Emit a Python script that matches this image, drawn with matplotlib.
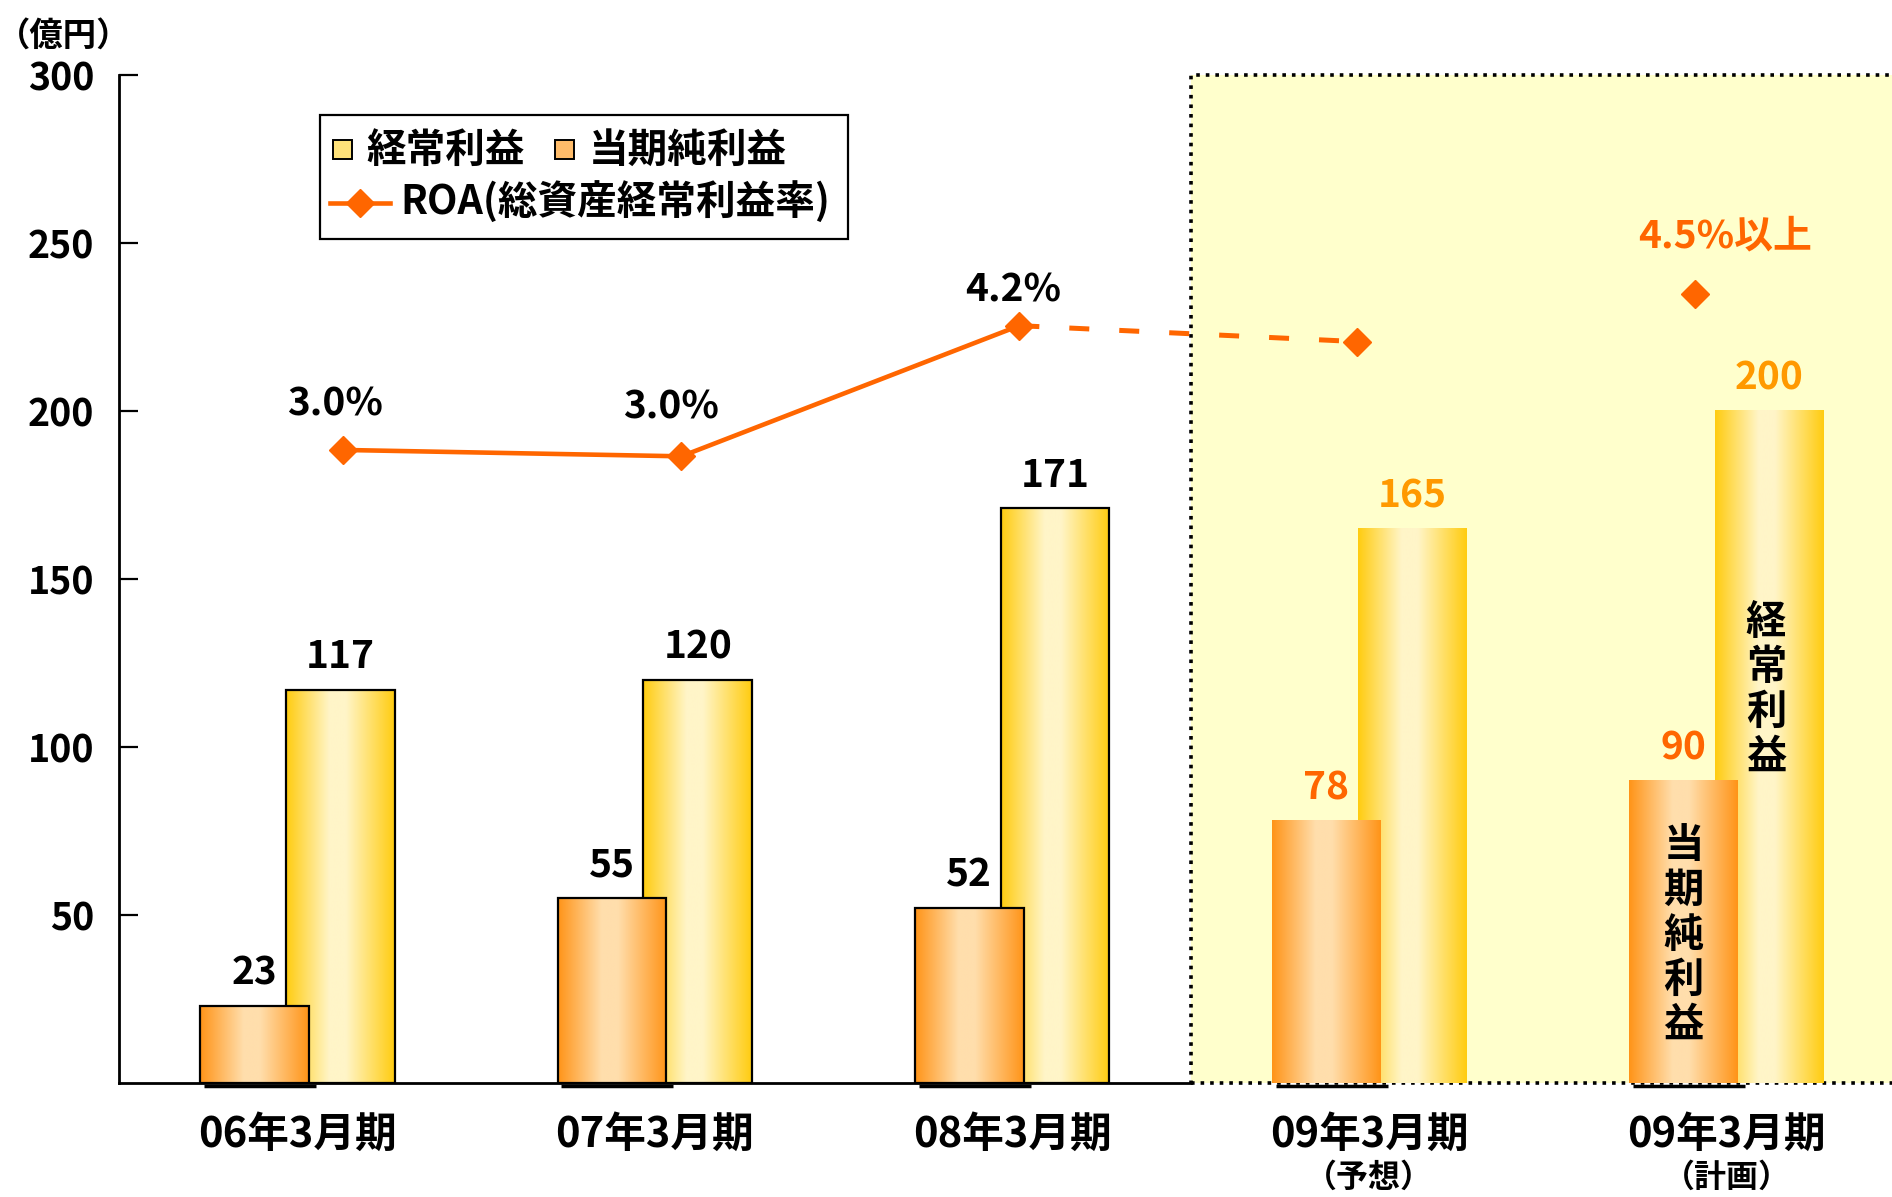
import numpy as np
import matplotlib
matplotlib.use("Agg")
import matplotlib.pyplot as plt
from matplotlib.patches import Rectangle
from matplotlib.lines import Line2D
from matplotlib.transforms import blended_transform_factory

plt.rcParams['font.family'] = ['Noto Sans CJK JP', 'DejaVu Sans']
plt.rcParams['font.weight'] = 'bold'

# データ
periods = ["06年3月期", "07年3月期", "08年3月期", "09年3月期", "09年3月期"]
period_notes = ["", "", "", "（予想）", "（計画）"]
keijo = [117, 120, 171, 165, 200]        # 経常利益 (億円)
junrieki = [23, 55, 52, 78, 90]          # 当期純利益 (億円)
roa = [3.03, 2.97, 4.2, 4.05, 4.5]       # ROA (%)
roa_labels = ["3.0%", "3.0%", "4.2%", "", "4.5%以上"]
yticks = [50, 100, 150, 200, 250, 300]

# 色
ROA_COLOR = "#FF6600"
YEL_EDGE, YEL_MID = "#FFCC10", "#FFF5C8"
ORG_EDGE, ORG_MID = "#FF9418", "#FFDEAC"

W, H = 1892, 1197


def fpos(px, py):
    # ピクセル位置 -> figure座標
    return px / W, 1 - py / H


def gradient(edge, mid):
    e = np.array(matplotlib.colors.to_rgb(edge))
    m = np.array(matplotlib.colors.to_rgb(mid))
    t = np.linspace(0, 1, 256)
    w = np.interp(t, [0, 0.4, 0.55, 1], [0, 1, 1, 0])
    return (e + (m - e) * w[:, None])[None, :, :]


fig = plt.figure(figsize=(W / 100, H / 100), dpi=100)
ax = fig.add_axes([119 / W, 1 - 1083 / H, 1 - 119 / W, (1083 - 75) / H])

x = np.arange(len(periods))
off, bw = 0.12, 0.304
xlim = (-0.5, 4.463)

# 予想・計画の背景ボックス
box = Rectangle((2.5, 0), 2.3, 300, facecolor="#FFFFCC", edgecolor="black",
                linestyle=":", linewidth=2.6, zorder=2.6, clip_on=False)
ax.add_patch(box)

# 棒グラフ (グラデーション)
yb = ax.bar(x + off, keijo, bw, facecolor="none", edgecolor="black", linewidth=1.6, zorder=3.5)
ob = ax.bar(x - off, junrieki, bw, facecolor="none", edgecolor="black", linewidth=1.6, zorder=4.5)
for i in (3, 4):
    yb[i].set_edgecolor("none")
    ob[i].set_edgecolor("none")

for bars, img, z in ((yb, gradient(YEL_EDGE, YEL_MID), 3), (ob, gradient(ORG_EDGE, ORG_MID), 4)):
    for b in bars:
        ax.imshow(img, extent=[b.get_x(), b.get_x() + b.get_width(), 0, b.get_height()],
                  aspect="auto", zorder=z, interpolation="bilinear")

# 当期純利益の下の影
for b in ob:
    ax.plot([b.get_x() + 0.01, b.get_x() + b.get_width() + 0.02], [-1.0, -1.0],
            color="black", lw=2.5, solid_capstyle="butt", zorder=4.6, clip_on=False)

ax.set_xlim(*xlim)
ax.set_ylim(0, 300)

# 値ラベル
for i, b in enumerate(yb):
    c = "#FF9900" if i >= 3 else "black"
    ax.annotate(str(keijo[i]), (b.get_x() + b.get_width() / 2, b.get_height()),
                xytext=(0, 33), textcoords="offset pixels", ha="center", va="center",
                fontsize=28, color=c, zorder=7)
for i, b in enumerate(ob):
    c = ROA_COLOR if i >= 3 else "black"
    ax.annotate(str(junrieki[i]), (b.get_x() + b.get_width() / 2, b.get_height()),
                xytext=(0, 33), textcoords="offset pixels", ha="center", va="center",
                fontsize=28, color=c, zorder=7)

# 棒の中の縦書き
ax.text(x[4] - off, 44, "当\n期\n純\n利\n益", ha="center", va="center",
        fontsize=29, linespacing=1.12, zorder=7)
ax.text(x[4] + off - 0.01, 117, "経\n常\n利\n益", ha="center", va="center",
        fontsize=29, linespacing=1.12, zorder=7)

# 軸
for s in ("top", "right"):
    ax.spines[s].set_visible(False)
ax.spines["left"].set_linewidth(2)
ax.spines["bottom"].set_linewidth(2)
ax.spines["bottom"].set_bounds(xlim[0], 2.5)
ax.set_yticks(yticks)
ax.set_yticklabels([str(v) for v in yticks], fontsize=27)
ax.tick_params(axis="y", direction="in", length=14, width=1.6, pad=18)
ax.set_xticks(x)
ax.set_xticklabels(periods, fontsize=30)
ax.tick_params(axis="x", length=0, pad=22)

tr = blended_transform_factory(ax.transData, fig.transFigure)
for i, note in enumerate(period_notes):
    if note:
        ax.text(x[i], 1 - 1178 / H, note, transform=tr, ha="center", va="center", fontsize=23)

fig.text(*fpos(64, 36), "（億円）", ha="center", va="center", fontsize=24)

# ROA 折れ線 (別スケール)
ax2 = fig.add_axes(ax.get_position(), frameon=False)
ax2.set_xlim(-0.664, 4.582)
ax2.set_ylim(-2.93, 6.56)
ax2.axis("off")
ax2.plot(x[:3], roa[:3], color=ROA_COLOR, lw=3.3, marker="D", ms=14, zorder=5)
ax2.plot(x[2:4], roa[2:4], color=ROA_COLOR, lw=3.6, ls=(0, (4, 6)),
         dash_capstyle="butt", zorder=5)
ax2.plot(x[3:], roa[3:], ls="none", color=ROA_COLOR, marker="D", ms=14, zorder=5)

label_offsets = [(-8, 46), (-10, 49), (-6, 36), (0, 0), (30, 58)]
for i, lab in enumerate(roa_labels):
    if lab:
        c = ROA_COLOR if i == 4 else "black"
        ax2.annotate(lab, (x[i], roa[i]), xytext=label_offsets[i], textcoords="offset pixels",
                     ha="center", va="center", fontsize=28, color=c)

# 凡例 (手作り)
fig.add_artist(Rectangle(fpos(320, 239), 528 / W, 124 / H, transform=fig.transFigure,
                         facecolor="white", edgecolor="black", linewidth=1.6))
fig.add_artist(Rectangle(fpos(333, 159), 19 / W, 19 / H, transform=fig.transFigure,
                         facecolor="#FFE27A", edgecolor="black", linewidth=1.4))
fig.add_artist(Rectangle(fpos(555, 159), 19 / W, 19 / H, transform=fig.transFigure,
                         facecolor="#FFBC6A", edgecolor="black", linewidth=1.4))
fig.text(*fpos(366, 150), "経常利益", ha="left", va="center", fontsize=28.5)
fig.text(*fpos(589, 150), "当期純利益", ha="left", va="center", fontsize=28.5)
lx0, ly = fpos(330, 203)
lx1, _ = fpos(390, 203)
fig.add_artist(Line2D([lx0, lx1], [ly, ly], transform=fig.transFigure, color=ROA_COLOR, lw=3.3))
fig.add_artist(Line2D([(lx0 + lx1) / 2], [ly], transform=fig.transFigure, color=ROA_COLOR,
                      marker="D", ms=14, ls="none"))
fig.text(*fpos(400, 203), "ROA(総資産経常利益率)", ha="left", va="center", fontsize=28.5)

fig.savefig("out.png", dpi=100)
